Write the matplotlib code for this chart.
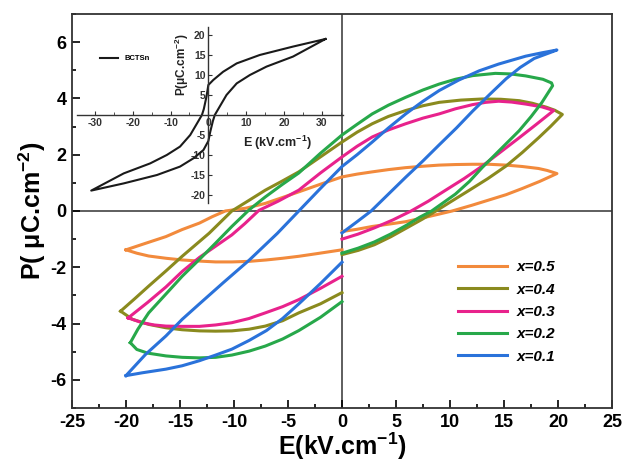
import matplotlib
matplotlib.use("Agg")
import matplotlib.pyplot as plt
from matplotlib.ticker import MultipleLocator

plt.rcParams["font.family"] = ["Liberation Sans", "DejaVu Sans"]
plt.rcParams["font.weight"] = "bold"
plt.rcParams["mathtext.fontset"] = "custom"
plt.rcParams["mathtext.rm"] = "Liberation Sans:bold"
plt.rcParams["mathtext.bf"] = "Liberation Sans:bold"
plt.rcParams["mathtext.default"] = "bf"
plt.rcParams["axes.unicode_minus"] = False

nan = float("nan")

# P-E loops.
# lower branch (-Emax -> 0), break at E=0, lower branch (0 -> +Emax), upper branch (+Emax -> -Emax)
e_05 = [-20, -19, -17.9, -16.3, -14.8, -13.2, -11.7, -10.2, -8.6, -7, -5.5, -4, -2.4, 0, nan,
        0, 1.4, 2.8, 4.3, 5.9, 8, 10.2, 12, 13.6, 15.2, 16.7, 18.3, 19.9,
        19, 18.2, 16.7, 15.2, 13.6, 12.1, 10.5, 9, 7.5, 5.9, 4.3, 2.8, 1.4, 0,
        -2, -4, -5.5, -7.1, -8.9, -10.8, -12, -13.2, -14.8, -16.3, -18.2, -20]
p_05 = [-1.38, -1.5, -1.6, -1.68, -1.74, -1.78, -1.81, -1.81, -1.79, -1.74, -1.68, -1.61, -1.52, -1.38, nan,
        -0.73, -0.65, -0.55, -0.47, -0.38, -0.2, 0.0, 0.2, 0.39, 0.58, 0.8, 1.05, 1.33,
        1.44, 1.51, 1.58, 1.63, 1.66, 1.66, 1.65, 1.63, 1.59, 1.54, 1.47, 1.39, 1.31, 1.21,
        0.95, 0.68, 0.48, 0.27, 0.1, 0.0, -0.2, -0.43, -0.66, -0.91, -1.15, -1.38]

e_04 = [-20.5, -19.4, -17.9, -16.3, -14.8, -13.2, -11.7, -10.2, -8.6, -7.1, -5.5, -4, -2, 0, nan,
        0, 1.5, 3, 4.5, 6, 7.4, 8.7, 10.2, 11.8, 13.5, 15.2, 16.7, 18.2, 19.3, 20.4,
        19.7, 18.9, 17.6, 16.4, 14.7, 13, 11, 9, 7.5, 5.9, 4.3, 2.8, 1.4, 0,
        -2, -4, -5.5, -7.1, -8.6, -10.2, -12.3, -14.8, -16.3, -17.9, -19.2, -20.5]
p_04 = [-3.56, -3.85, -4.03, -4.15, -4.22, -4.26, -4.27, -4.26, -4.2, -4.09, -3.9, -3.62, -3.3, -2.9, nan,
        -1.55, -1.4, -1.2, -0.92, -0.6, -0.3, 0.0, 0.36, 0.74, 1.15, 1.6, 2.08, 2.6, 3.0, 3.43,
        3.58, 3.69, 3.83, 3.92, 3.97, 3.98, 3.94, 3.86, 3.74, 3.57, 3.36, 3.1, 2.8, 2.45,
        1.92, 1.39, 1.07, 0.74, 0.38, 0.0, -0.79, -1.61, -2.13, -2.67, -3.12, -3.56]

e_03 = [-19.8, -18.5, -17.4, -16.3, -14.8, -13.2, -11.7, -10.2, -8.6, -7.1, -5.5, -4, -2, 0, nan,
        0, 1.5, 3, 4.7, 6.4, 8, 9.6, 11.3, 13, 14.7, 16.4, 18, 19.6,
        18.5, 17, 15.7, 14.5, 13.3, 12.1, 10.5, 9, 7.5, 5.9, 4.3, 2.8, 1.4, 0,
        -2, -4, -5.9, -7.7, -9, -10.2, -11.7, -13.2, -14.8, -16.3, -18, -19.8]
p_03 = [-3.8, -3.97, -4.05, -4.09, -4.1, -4.1, -4.05, -3.97, -3.82, -3.62, -3.4, -3.15, -2.75, -2.32, nan,
        -1.0, -0.82, -0.6, -0.32, 0.0, 0.35, 0.74, 1.15, 1.6, 2.1, 2.6, 3.08, 3.57,
        3.7, 3.8, 3.87, 3.9, 3.86, 3.78, 3.63, 3.45, 3.3, 3.1, 2.88, 2.63, 2.3, 1.92,
        1.35, 0.74, 0.35, 0.02, -0.45, -0.85, -1.25, -1.65, -2.15, -2.7, -3.25, -3.8]

e_02 = [-19.6, -19, -18, -16.3, -14.8, -13.2, -11.7, -10.2, -8.6, -7.1, -5.5, -4, -2, 0, nan,
        0, 1.5, 3, 4.5, 6, 7.2, 8.3, 9.4, 10.5, 11.8, 13, 14.7, 16.4, 17.5, 18.5, 19.5,
        19.4, 18.6, 17, 15.6, 14.2, 12.1, 10.5, 9, 7.5, 5.9, 4.3, 2.8, 1.4, 0,
        -2, -4, -5.5, -7.1, -8.6, -10.2, -11.7, -13.2, -14.8, -16.3, -17.9, -18.9, -19.6]
p_02 = [-4.68, -4.92, -5.05, -5.15, -5.2, -5.22, -5.2, -5.12, -4.98, -4.8, -4.55, -4.25, -3.78, -3.22, nan,
        -1.5, -1.32, -1.1, -0.82, -0.5, -0.22, 0.0, 0.3, 0.6, 1.05, 1.55, 2.2, 2.85, 3.35, 3.85, 4.45,
        4.55, 4.68, 4.8, 4.87, 4.89, 4.81, 4.68, 4.51, 4.3, 4.04, 3.76, 3.45, 3.08, 2.7,
        2.05, 1.35, 0.95, 0.5, 0.04, -0.55, -1.14, -1.72, -2.32, -2.95, -3.62, -4.2, -4.68]

e_01 = [-20, -18.5, -16.3, -14.8, -13.2, -11.7, -10.2, -8.6, -7, -5.5, -4, -2, 0, nan,
        0, 1.4, 2.7, 4.3, 5.9, 7.5, 9, 10.6, 12.1, 13.7, 15.2, 16.5, 17.8, 19.9,
        18.5, 17, 14.5, 12.7, 10.8, 9, 7.5, 5.9, 4.3, 2.8, 1.4, 0,
        -2, -4, -6, -8.6, -11, -13.2, -14.8, -16.3, -18.2, -20]
p_01 = [-5.85, -5.75, -5.62, -5.5, -5.32, -5.12, -4.91, -4.6, -4.25, -3.82, -3.3, -2.58, -1.82, nan,
        -0.78, -0.38, 0.0, 0.6, 1.2, 1.78, 2.35, 2.95, 3.55, 4.15, 4.7, 5.1, 5.42, 5.72,
        5.62, 5.5, 5.22, 4.98, 4.65, 4.28, 3.9, 3.45, 2.95, 2.45, 2.0, 1.58,
        0.8, 0.0, -0.8, -1.75, -2.55, -3.3, -3.85, -4.44, -5.1, -5.85]

labels = ["x=0.5", "x=0.4", "x=0.3", "x=0.2", "x=0.1"]
colors = ["#F28A3C", "#8A8A1E", "#E8228C", "#27A84A", "#2A72DA"]

# inset: BCTSn loop, upper branch (+31 -> -31) then lower branch (-31 -> +31)
e_bctsn = [31, 22.4, 13.6, 7.5, 3.9, 1.3, 0, -0.5, -1.2, -1.7, -3, -4.8, -7.5, -11, -15.4, -22.4, -31,
           -22.4, -13.6, -7.5, -3.9, -1.3, 0, 0.5, 1.2, 1.7, 3, 4.8, 7.5, 11, 15.4, 22.4, 31]
p_bctsn = [19, 17.1, 15, 12.9, 10.8, 8.75, 7.5, 4.6, 1.5, 0, -2.1, -5, -7.9, -10, -12.1, -14.6, -18.9,
           -17.1, -15, -12.9, -10.8, -8.75, -6.5, -4.2, -1.5, 0, 2.1, 5, 7.9, 10, 12.1, 14.6, 19]

fig = plt.figure(figsize=(6.25, 4.66), dpi=100)
ax = fig.add_axes([0.1152, 0.1245, 0.864, 0.8455])

series = [(e_05, p_05), (e_04, p_04), (e_03, p_03), (e_02, p_02), (e_01, p_01)]
for (e, p), lab, col in zip(series, labels, colors):
    ax.plot(e, p, color=col, lw=2.2, label=lab, solid_joinstyle="round")

ax.axhline(0, color="#333333", lw=1.1, zorder=1)
ax.axvline(0, color="#333333", lw=1.1, zorder=1)

ax.set_xlim(-25, 25)
ax.set_ylim(-7, 7)
ax.xaxis.set_major_locator(MultipleLocator(5))
ax.xaxis.set_minor_locator(MultipleLocator(2.5))
ax.yaxis.set_major_locator(MultipleLocator(2))
ax.yaxis.set_minor_locator(MultipleLocator(1))
ax.tick_params(which="both", direction="in", top=False, right=False, width=1.2)
ax.tick_params(which="major", length=6, labelsize=13, pad=4)
ax.tick_params(which="minor", length=3)
for lab in ax.get_xticklabels() + ax.get_yticklabels():
    lab.set_fontweight("bold")
for sp in ax.spines.values():
    sp.set_linewidth(1.3)
    sp.set_color("#333333")

ax.set_xlabel("E(kV.cm$^{-1}$)", fontsize=18, fontweight="bold", labelpad=0)
ax.set_ylabel("P( \u03bcC.cm$^{-2}$)", fontsize=18, fontweight="bold", labelpad=2)

ax.legend(loc="upper left", bbox_to_anchor=(0.69, 0.41), frameon=False,
          handlelength=3.2, labelspacing=0.55, handletextpad=0.6,
          prop={"size": 11, "weight": "bold", "style": "italic"})

# inset
ins = fig.add_axes([0.123, 0.5644, 0.4256, 0.3777])
ins.patch.set_alpha(0)
ins.plot(e_bctsn, p_bctsn, color="#1a1a1a", lw=1.5, label="BCTSn")
ins.set_xlim(-34.8, 35.6)
ins.set_ylim(-22, 22)
ins.spines["left"].set_position(("data", 0))
ins.spines["bottom"].set_position(("data", 0))
ins.spines["top"].set_visible(False)
ins.spines["right"].set_visible(False)
for s in ("left", "bottom"):
    ins.spines[s].set_linewidth(1.0)
    ins.spines[s].set_color("#333333")
ins.xaxis.set_major_locator(MultipleLocator(10))
ins.xaxis.set_minor_locator(MultipleLocator(5))
ins.set_yticks([-20, -15, -10, -5, 5, 10, 15, 20])
ins.tick_params(which="both", direction="in", labelsize=7.5, length=3, colors="#333333", pad=2)
ins.tick_params(which="minor", length=2)
for lab in ins.get_xticklabels() + ins.get_yticklabels():
    lab.set_fontweight("bold")
ins.text(0.755, 0.34, "E (kV.cm$^{-1}$)", transform=ins.transAxes, ha="center", va="center",
         fontsize=9, fontweight="bold", color="#222222")
ins.text(0.395, 0.784, "P(\u03bcC.cm$^{-2}$)", transform=ins.transAxes, ha="center", va="center",
         rotation=90, fontsize=8.5, fontweight="bold", color="#222222")
ins.legend(loc="upper left", bbox_to_anchor=(0.06, 0.88), frameon=False, handlelength=2.4,
           prop={"size": 5.5, "weight": "bold"})

fig.savefig("out.png", dpi=100)
